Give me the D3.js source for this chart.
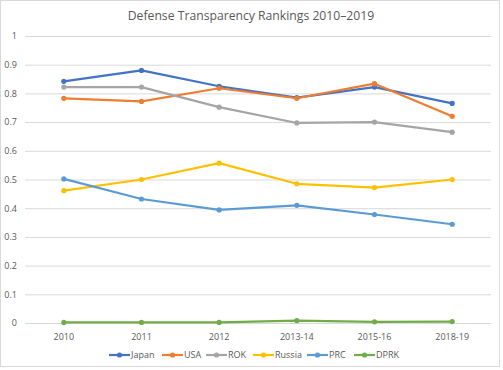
<!DOCTYPE html>
<html>
<head>
<meta charset="utf-8">
<script src="https://cdn.jsdelivr.net/npm/d3@7"></script>
<style>
  body { margin: 0; background: #fff; }
  text { font-family: "Open Sans", "Liberation Sans", sans-serif; fill: #595959; }
</style>
</head>
<body>
<div id="chart"></div>
<script>
// chart data
var categories = ["2010", "2011", "2012", "2013-14", "2015-16", "2018-19"];
var seriesNames = ["Japan", "USA", "ROK", "Russia", "PRC", "DPRK"];
var japan = [0.842, 0.880, 0.825, 0.785, 0.822, 0.765];
var usa = [0.783, 0.772, 0.818, 0.783, 0.834, 0.720];
var rok = [0.822, 0.822, 0.752, 0.697, 0.700, 0.665];
var russia = [0.461, 0.500, 0.557, 0.485, 0.472, 0.500];
var prc = [0.502, 0.432, 0.394, 0.410, 0.378, 0.344];
var dprk = [0.002, 0.002, 0.002, 0.008, 0.004, 0.005];
var yTicks = [0, 0.1, 0.2, 0.3, 0.4, 0.5, 0.6, 0.7, 0.8, 0.9, 1];

var colors = ["#4472C4", "#ED7D31", "#A5A5A5", "#FFC000", "#5B9BD5", "#70AD47"];
var allValues = [japan, usa, rok, russia, prc, dprk];

var svgWidth = 503;
var svgHeight = 370;
var margin = { top: 36, right: 12, bottom: 47, left: 25 };
var width = svgWidth - margin.left - margin.right;
var height = svgHeight - margin.top - margin.bottom;

var svg = d3.select("#chart").append("svg")
    .attr("width", svgWidth)
    .attr("height", svgHeight);

// outer border
svg.append("rect")
    .attr("x", 0.5).attr("y", 0.5)
    .attr("width", svgWidth - 4).attr("height", svgHeight - 4)
    .attr("fill", "#fff")
    .attr("stroke", "#d9d9d9");

svg.append("text")
    .attr("x", 251)
    .attr("y", 20)
    .attr("text-anchor", "middle")
    .style("font-size", "12.2px")
    .text("Defense Transparency Rankings 2010\u20132019");

var g = svg.append("g")
    .attr("transform", `translate(${margin.left},${margin.top})`);

var x = d3.scaleBand().domain(categories).range([0, width]);
var y = d3.scaleLinear().domain([0, 1]).range([height, 0]);

// gridlines
g.append("g")
    .call(d3.axisLeft(y).tickValues(yTicks).tickSize(-width).tickFormat(d3.format("")))
    .call(a => a.select(".domain").remove())
    .call(a => a.selectAll(".tick line").attr("stroke", "#d9d9d9"))
    .call(a => a.selectAll(".tick text").attr("x", -8).style("font-size", "9px").attr("fill", "#595959"));

// x axis labels
g.append("g")
    .attr("transform", `translate(0,${height})`)
    .call(d3.axisBottom(x).tickSize(0))
    .call(a => a.select(".domain").remove())
    .call(a => a.selectAll(".tick text").attr("dy", "1.6em").style("font-size", "9px").attr("fill", "#595959"));

var line = d3.line()
    .x((d, i) => x(categories[i]) + x.bandwidth() / 2)
    .y(d => y(d));

allValues.forEach(function(vals, k) {
    g.append("path")
        .datum(vals)
        .attr("fill", "none")
        .attr("stroke", colors[k])
        .attr("stroke-width", 2.2)
        .attr("stroke-linejoin", "round")
        .attr("d", line);
    g.selectAll(null)
        .data(vals)
        .enter().append("circle")
        .attr("cx", (d, i) => x(categories[i]) + x.bandwidth() / 2)
        .attr("cy", d => y(d))
        .attr("r", 2.6)
        .attr("fill", colors[k]);
});

// legend
var legendX = [109, 162, 206, 253, 307, 354];
var legend = svg.append("g").attr("transform", "translate(0,355)");
seriesNames.forEach(function(name, k) {
    var lg = legend.append("g").attr("transform", `translate(${legendX[k]},0)`);
    lg.append("line")
        .attr("x1", 0).attr("x2", 21)
        .attr("stroke", colors[k]).attr("stroke-width", 2.2);
    lg.append("circle").attr("cx", 10.5).attr("r", 2.6).attr("fill", colors[k]);
    lg.append("text")
        .attr("x", 22).attr("dy", "0.35em")
        .style("font-size", "9px")
        .text(name);
});
</script>
</body>
</html>
